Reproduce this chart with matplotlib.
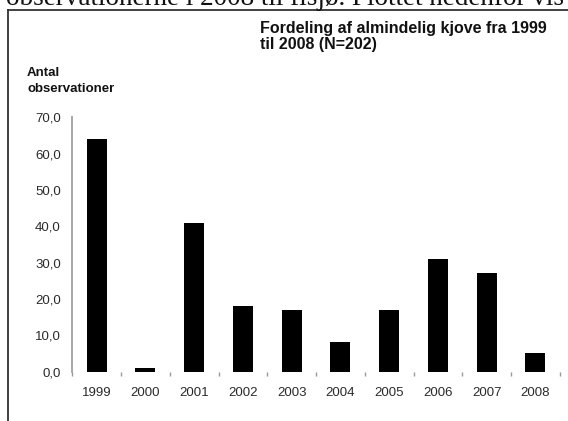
import matplotlib
matplotlib.use("Agg")
import matplotlib.pyplot as plt
from matplotlib.lines import Line2D
import numpy as np

years = ["1999", "2000", "2001", "2002", "2003", "2004", "2005", "2006", "2007", "2008"]
counts = [64, 1, 41, 18, 17, 8, 17, 31, 27, 5]
y_ticks = [0, 10, 20, 30, 40, 50, 60, 70]
y_labels = ["0,0", "10,0", "20,0", "30,0", "40,0", "50,0", "60,0", "70,0"]
title = "Fordeling af almindelig kjove fra 1999\ntil 2008 (N=202)"
ylabel = "Antal\nobservationer"
doc_text = "observationerne i 2008 til fisjø. Plottet nedenfor vis"

W, H = 568, 421
fig = plt.figure(figsize=(W / 100, H / 100), dpi=100)
fig.patch.set_facecolor("white")

def fx(px):
    return px / W

def fy(py):
    return 1 - py / H

ax = fig.add_axes([fx(72.3), fy(371.5), fx(559.8) - fx(72.3), fy(117.2) - fy(371.5)])
x = np.arange(len(years))
ax.bar(x, counts, width=0.41, color="black", linewidth=0)
ax.set_xlim(-0.5, len(years) - 0.5)
ax.set_ylim(0, 70)

for s in ["top", "right", "bottom"]:
    ax.spines[s].set_visible(False)
ax.spines["left"].set_color("#a0a0a0")
ax.spines["left"].set_linewidth(1.3)

ax.set_xticks(x)
ax.set_xticklabels(years, fontsize=9.5, color="#2a2a2a", family="Liberation Sans")
ax.set_xticks(np.arange(-0.5, len(years)), minor=True)
ax.tick_params(axis="x", which="major", length=0, pad=11.5)
ax.tick_params(axis="x", which="minor", length=3.2, color="#999999", width=1, direction="out")

ax.set_yticks(y_ticks)
ax.set_yticklabels(y_labels, fontsize=9.5, color="#2a2a2a", family="Liberation Sans")
ax.set_yticks([10, 30, 50, 70], minor=True)
ax.tick_params(axis="y", which="major", length=0, pad=8.3)
ax.tick_params(axis="y", which="minor", length=3.6, color="#333333", width=1, direction="out")

fig.text(fx(260), fy(28.5), title.split("\n")[0], fontsize=11.5, fontweight="bold",
         family="Liberation Sans", color="#111111", ha="left", va="center")
fig.text(fx(260), fy(44), title.split("\n")[1], fontsize=11.5, fontweight="bold",
         family="Liberation Sans", color="#111111", ha="left", va="center")
fig.text(fx(27), fy(73), ylabel.split("\n")[0], fontsize=9.5, fontweight="bold",
         family="Liberation Sans", color="#111111", ha="left", va="center")
fig.text(fx(27), fy(88.5), ylabel.split("\n")[1], fontsize=9.5, fontweight="bold",
         family="Liberation Sans", color="#111111", ha="left", va="center")

# surrounding frame of the document box
fig.add_artist(Line2D([fx(7.5), fx(7.5)], [fy(10), 0], color="#333333", linewidth=1.3))
fig.add_artist(Line2D([fx(7.5), 1], [fy(10), fy(10)], color="#333333", linewidth=1.3))

# cut-off document text above the box (only its lower part is visible in the reference)
fig.text(fx(6), fy(5), doc_text, fontsize=19.5, family="Liberation Serif",
         color="#111111", ha="left", va="baseline")

fig.savefig("out.png", dpi=100, facecolor="white")
